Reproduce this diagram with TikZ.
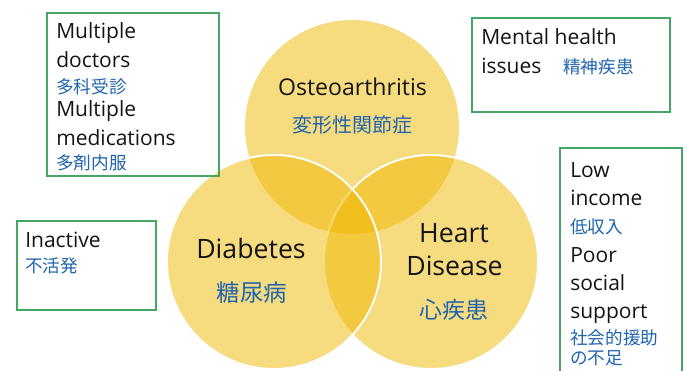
\documentclass[tikz,border=0pt]{standalone}
\usepackage{fontspec}
\setmainfont{Open Sans}
\newfontfamily\jpfont{Noto Sans CJK JP}
\usetikzlibrary{fit}
\definecolor{venn}{RGB}{240,185,0}
\definecolor{framegreen}{RGB}{68,168,100}
\definecolor{jpblue}{RGB}{30,100,175}
\definecolor{ink}{RGB}{20,20,20}

\begin{document}
\begin{tikzpicture}[x=0.75pt,y=-0.75pt,
  setcircle/.style={circle, inner sep=0pt, minimum size=160.5pt, fill=venn, fill opacity=0.5},
  rim/.style={draw=white, line width=1.4pt},
  infobox/.style={draw=framegreen, line width=2pt, inner sep=0pt},
  en/.style={font=\fontsize{15.75}{18}\selectfont, text=ink, anchor=base west, inner sep=0pt},
  jp/.style={font=\jpfont\fontsize{13.2}{15}\selectfont, text=jpblue, anchor=west, inner sep=0pt},
  big/.style={font=\fontsize{20}{24}\selectfont, text=ink, anchor=base, inner sep=0pt},
  mid/.style={font=\fontsize{17.3}{20}\selectfont, text=ink, anchor=base, inner sep=0pt},
  bigjp/.style={font=\jpfont\fontsize{17.6}{20}\selectfont, text=jpblue, anchor=center, inner sep=0pt},
  midjp/.style={font=\jpfont\fontsize{15}{18}\selectfont, text=jpblue, anchor=center, inner sep=0pt}]

\useasboundingbox (0,0) rectangle (687,371);
\clip (0,0) rectangle (687,371);
\fill[white] (0,0) rectangle (687,371);

% the three overlapping conditions, stacked back to front
\node[setcircle] (osteo) at (352,127) {};
\node[setcircle] (heart) at (431,262) {};
\draw[rim] (heart.center) circle[radius=107];
\node[setcircle] (diab) at (274,262) {};
\draw[rim] (diab.center) circle[radius=107];

\node[mid] (osteoEn) at (352.5,95) {Osteoarthritis};
\node[midjp] (osteoJp) at (352.5,125) {変形性関節症};
\node[big] (diabEn) at (251,258) {Diabetes};
\node[bigjp] (diabJp) at (252,293) {糖尿病};
\node[big] (heartEn1) at (454,242) {Heart};
\node[big] (heartEn2) at (454.5,275) {Disease};
\node[midjp, font=\jpfont\fontsize{17.2}{20}\selectfont] (heartJp) at (454,310) {心疾患};

% surrounding factor boxes
\node[infobox, fit={(47,13) (219,176)}] (careBox) {};
\node[en] (care1) at (56,38) {Multiple};
\node[en] (care2) at (56,67) {doctors};
\node[jp] (care3) at (56,87) {多科受診};
\node[en] (care4) at (56,117) {Multiple};
\node[en] (care5) at (56,145) {medications};
\node[jp] (care6) at (56,163) {多剤内服};

\node[infobox, fit={(472,18) (670,112)}] (mentalBox) {};
\node[en] (mental1) at (481,45) {Mental health};
\node[en] (mental2) at (481,73) {issues};
\node[jp] (mental3) at (563,67) {精神疾患};

\node[infobox, fit={(560,148) (682,385)}] (socialBox) {};
\node[en] (social1) at (570,177) {Low};
\node[en] (social2) at (570,205) {income};
\node[jp] (social3) at (570,227) {低収入};
\node[en] (social4) at (570,262) {Poor};
\node[en] (social5) at (570,290) {social};
\node[en] (social6) at (570,318) {support};
\node[jp] (social7) at (570,338) {社会的援助};
\node[jp] (social8) at (570,358) {の不足};

\node[infobox, fit={(17,221) (156,310)}] (activeBox) {};
\node[en] (active1) at (25,247) {Inactive};
\node[jp] (active2) at (25,266) {不活発};
\end{tikzpicture}
\end{document}
